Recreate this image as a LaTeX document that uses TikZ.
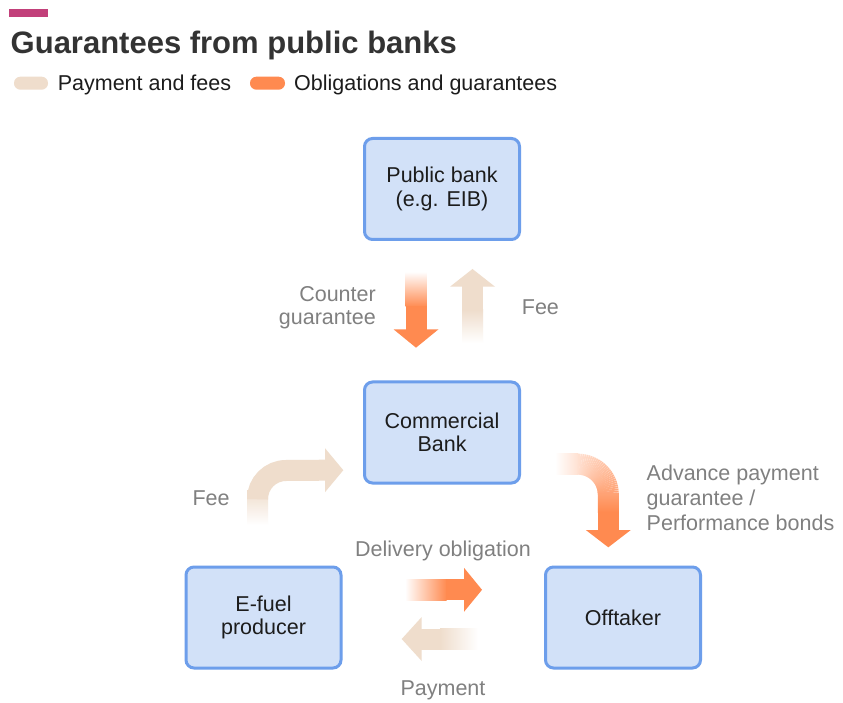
\documentclass[tikz,border=0pt]{standalone}
\usepackage{fontspec}
\setmainfont{Liberation Sans}

\definecolor{boxfill}{HTML}{D2E1F8}
\definecolor{boxline}{HTML}{6D9EEB}
\definecolor{oblig}{HTML}{FF8A50}
\definecolor{pay}{HTML}{EFDDCC}
\definecolor{labelgray}{HTML}{808080}
\definecolor{titlegray}{HTML}{333333}
\definecolor{textdark}{HTML}{1C1C1C}
\definecolor{accent}{HTML}{C2407A}

\begin{document}
\begin{tikzpicture}[x=1pt,y=1pt,
  party/.style={draw=boxline, fill=boxfill, line width=3pt, rounded corners=8pt,
    minimum width=155pt, minimum height=101pt, align=center, text=textdark,
    font=\fontsize{21.5}{23.4}\selectfont, inner sep=0pt},
  flowlabel/.style={text=labelgray, font=\fontsize{21.5}{23.3}\selectfont, inner sep=0pt},
  legendtext/.style={text=textdark, font=\fontsize{21.5}{24}\selectfont, inner sep=0pt, anchor=base west},
  band/.style={line width=21pt},
]
\useasboundingbox (0,0) rectangle (843,702);
\fill[white] (0,0) rectangle (843,702);

% heading and legend
\fill[accent] (8.5,685) rectangle (47.5,693);
\node[anchor=base west, inner sep=0pt, text=titlegray,
  font=\fontsize{31}{34}\selectfont\bfseries] (title) at (10.5,648) {Guarantees from public banks};
\fill[pay, rounded corners=6.4pt] (14,612.3) rectangle (48,625.3);
\node[legendtext] (lpay) at (57.6,611.3) {Payment and fees};
\fill[oblig, rounded corners=6.4pt] (250,612.3) rectangle (285,625.3);
\node[legendtext] (lobl) at (294,611.3) {Obligations and guarantees};

% parties
\node[party] (pub) at (442,513) {Public bank\\(e.g. EIB)};
\node[party] (com) at (442,269.5) {Commercial\\Bank};
\node[party] (efuel) at (263.5,84.5) {E-fuel\\producer};
\node[party] (off) at (623,84.5) {Offtaker};

% counter guarantee: public bank -> commercial bank
\shade[top color=white, bottom color=oblig] (405.5,430.3) rectangle (426.5,395);
\fill[oblig] (405.5,395.5) rectangle (426.5,372.4);
\fill[oblig] (393.5,372.7) -- (438.5,372.7) -- (416,354.3) -- cycle;

% fee: commercial bank -> public bank
\shade[top color=pay, bottom color=white] (462,392) rectangle (483,359);
\fill[pay] (462,391.5) rectangle (483,415.6);
\fill[pay] (450,415.3) -- (495,415.3) -- (472.5,433) -- cycle;

% fee: producer -> commercial bank (bent)
\shade[top color=pay, bottom color=white] (247,177) rectangle (268,212);
\draw[pay, band] (257.5,211.5) -- (257.5,203) arc[start angle=180, end angle=90, radius=28.5] -- (325.5,231.8);
\fill[pay] (325,253.8) -- (343.3,231.8) -- (325,209.8) -- cycle;

% advance payment guarantee: commercial bank -> offtaker (bent)
\shade[left color=white, right color=oblig!26!white] (555,227.3) rectangle (578.3,248.3);
\foreach \i [evaluate=\i as \a using 90-3*\i,
             evaluate=\i as \p using 26+54*(\i+0.5)/30] in {0,...,29}
  \draw[oblig!\p!white, band] (578,207.5) ++(\a:30.3) arc[start angle=\a, end angle=\a-3.4, radius=30.3];
\shade[top color=oblig!80!white, bottom color=oblig] (597.8,207.6) rectangle (618.8,190);
\fill[oblig] (597.8,190.5) rectangle (618.8,171.7);
\fill[oblig] (585.8,172) -- (630.8,172) -- (608.3,154.7) -- cycle;

% delivery obligation: producer -> offtaker
\shade[left color=white, right color=oblig] (405,101.7) rectangle (446.7,122.7);
\fill[oblig] (446.2,101.7) rectangle (464.3,122.7);
\fill[oblig] (464,134.2) -- (482,112.2) -- (464,90.2) -- cycle;

% payment: offtaker -> producer
\shade[left color=pay, right color=white] (440,52.5) rectangle (478,73.5);
\fill[pay] (421.4,52.5) rectangle (440.5,73.5);
\fill[pay] (421.7,85) -- (401.7,63) -- (421.7,41) -- cycle;

% flow labels (multi-line nodes are anchored on their last baseline)
\node[flowlabel, align=right, anchor=base east] (lcounter) at (376,377) {Counter\\guarantee};
\node[flowlabel, anchor=base west] (lfeetop) at (521.7,387) {Fee};
\node[flowlabel, anchor=base west] (lfeeleft) at (192.3,197) {Fee};
\node[flowlabel, align=left, anchor=base west, font=\fontsize{21.5}{25}\selectfont] (ladv) at (646.5,172)
  {Advance payment\\guarantee /\\Performance bonds};
\node[flowlabel, anchor=base] (ldel) at (443,146) {Delivery obligation};
\node[flowlabel, anchor=base] (lpaym) at (443,7) {Payment};
\end{tikzpicture}
\end{document}
